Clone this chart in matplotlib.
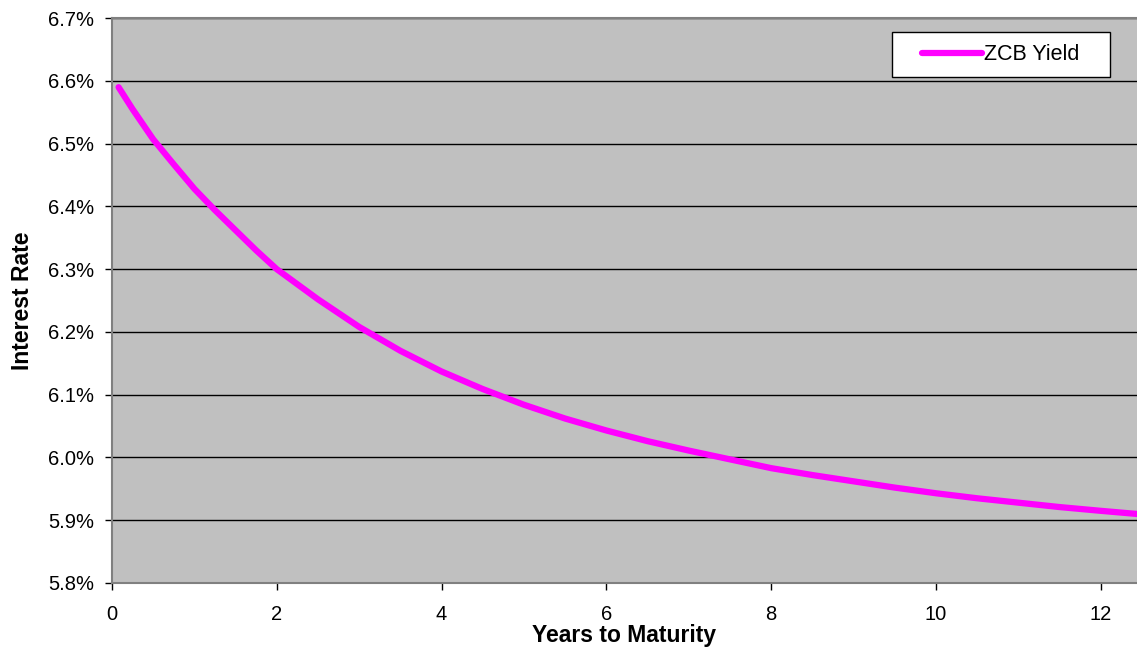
import matplotlib.pyplot as plt
from matplotlib.ticker import FuncFormatter
from matplotlib.legend_handler import HandlerLine2D

plt.rcParams['font.family'] = ['Liberation Sans', 'DejaVu Sans']

# years to maturity and zero coupon bond yield (%)
anos = [0.08, 0.25, 0.5, 0.75, 1.0, 1.25, 1.5, 1.75, 2.0, 2.5, 3.0, 3.5, 4.0, 4.5,
        5.0, 5.5, 6.0, 6.5, 7.0, 7.5, 8.0, 8.5, 9.0, 9.5, 10.0, 10.5, 11.0, 11.5,
        12.0, 12.44]
rendimiento = [6.590, 6.555, 6.507, 6.467, 6.428, 6.394, 6.362, 6.330, 6.300, 6.252,
               6.208, 6.170, 6.137, 6.109, 6.084, 6.062, 6.043, 6.026, 6.011, 5.997,
               5.983, 5.972, 5.962, 5.952, 5.943, 5.935, 5.928, 5.921, 5.915, 5.910]
ticks_x = [0, 2, 4, 6, 8, 10, 12]
ticks_y = [5.8, 5.9, 6.0, 6.1, 6.2, 6.3, 6.4, 6.5, 6.6, 6.7]

fig = plt.figure(figsize=(11.37, 6.53), dpi=100)
ax = fig.add_axes([0.0985, 0.1072, 0.9015, 0.865])
ax.set_facecolor('#C0C0C0')

ax.plot(anos, rendimiento, color='#FF00FF', lw=4.5, solid_capstyle='round',
        label='ZCB Yield   ', zorder=3)

ax.set_xlim(0, 12.44)
ax.set_ylim(5.8, 6.7)
ax.set_xticks(ticks_x)
ax.set_yticks(ticks_y)
ax.yaxis.set_major_formatter(FuncFormatter(lambda v, p: f'{v:.1f}%'))
ax.grid(axis='y', color='black', lw=1)
ax.set_axisbelow(True)

for lado in ['left', 'bottom', 'top']:
    ax.spines[lado].set_color('#808080')
    ax.spines[lado].set_linewidth(1.5)
ax.spines['right'].set_visible(False)

ax.tick_params(axis='both', direction='out', length=5, width=1, color='black',
               labelsize=14.5)
ax.tick_params(axis='y', pad=8)
ax.tick_params(axis='x', pad=11)

ax.set_xlabel('Years to Maturity', fontsize=16.5, fontweight='bold', labelpad=0)
ax.set_ylabel('Interest Rate', fontsize=16.5, fontweight='bold', labelpad=10)

# legend: line starts inset from the frame, text right after the line
leg = ax.legend(loc='upper right', bbox_to_anchor=(0.9737, 0.9757), borderaxespad=0,
                fontsize=15.5, handlelength=4.43, handletextpad=-0.72,
                borderpad=0.57, fancybox=False, framealpha=1, edgecolor='black',
                handler_map={plt.Line2D: HandlerLine2D(marker_pad=0.82, numpoints=2)})
leg.get_frame().set_linewidth(1)

fig.savefig('out.png', dpi=100)
